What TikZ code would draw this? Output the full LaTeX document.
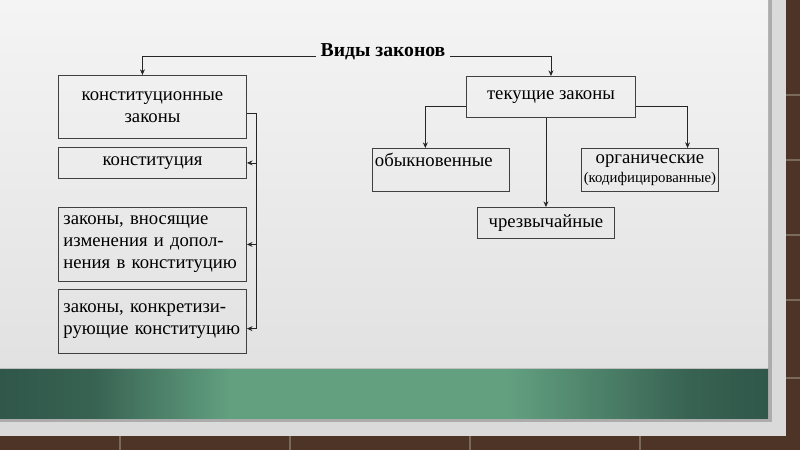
\documentclass[tikz,border=0pt]{standalone}
\usepackage{fontspec}
\setmainfont{Liberation Serif}
\usetikzlibrary{arrows.meta}

\definecolor{brick}{HTML}{4E3426}
\definecolor{mortar}{HTML}{7A6A5A}
\definecolor{panel}{HTML}{EDEDED}
\definecolor{bandmid}{HTML}{62A080}
\definecolor{bandend}{HTML}{30574A}
\pgfdeclarehorizontalshading{band}{100bp}{color(0bp)=(bandend); color(25bp)=(bandend); color(31bp)=(bandend!85!bandmid);
  color(40bp)=(bandmid); color(58bp)=(bandmid); color(70bp)=(bandend!85!bandmid); color(75bp)=(bandend); color(100bp)=(bandend)}

\begin{document}
\begin{tikzpicture}[x=0.025cm,y=-0.025cm,
  every node/.style={font=\fontsize{13.3}{15.6}\selectfont},
  box/.style={draw=black!75,line width=0.6pt,anchor=north west,inner sep=0pt},
  link/.style={draw=black!85,line width=0.6pt},
  >={Stealth[length=4pt,width=3.5pt]}]
\useasboundingbox (0,0) rectangle (800,450);
% slide background
\fill[brick] (0,0) rectangle (800,450);
\draw[mortar,line width=1.5pt] (786,95) -- (800,95);
\draw[mortar,line width=1.5pt] (786,160) -- (800,160);
\draw[mortar,line width=1.5pt] (786,235) -- (800,235);
\draw[mortar,line width=1.5pt] (786,300) -- (800,300);
\draw[mortar,line width=1.5pt] (786,378) -- (800,378);
\draw[mortar,line width=1pt] (120,436) -- (120,450);
\draw[mortar,line width=1pt] (290,436) -- (290,450);
\draw[mortar,line width=1pt] (470,436) -- (470,450);
\draw[mortar,line width=1pt] (640,436) -- (640,450);
\fill[panel!92!black] (0,0) rectangle (786,436);
\fill[gray!65] (0,0) rectangle (772,422);
\shade[top color=panel!60!white,bottom color=panel!94!black] (0,0) rectangle (768,418);
\shade[shading=band] (0,368) rectangle (768,418);
\draw[gray!50] (0,368) -- (768,368);

% title
\node[font=\bfseries\fontsize{14}{16}\selectfont,anchor=base] (title) at (383,56) {Виды законов};

% constitutional laws
\node[box,minimum width=4.7cm,minimum height=1.575cm,align=center] (konst) at (58,75) {конституционные\\законы};
\node[box,minimum width=4.7cm,minimum height=0.775cm] (konstit) at (58,147) {конституция};
\node[box,minimum width=4.7cm,minimum height=1.85cm,text width=4.45cm,align=left] (vnos) at (58,207) {законы, вносящие\\изменения и допол-\\нения в конституцию};
\node[box,minimum width=4.7cm,minimum height=1.6cm,text width=4.45cm,align=left] (konk) at (58,289) {законы, конкретизи-\\рующие конституцию};

% current laws
\node[box,minimum width=4.225cm,minimum height=1.025cm] (tek) at (466,76) {текущие законы};
\node[box,minimum width=3.425cm,text width=3.3cm,align=left,text height=0.45cm,text depth=0.625cm] (obyk) at (372,148) {обыкновенные};
\node[box,minimum width=3.425cm,minimum height=1.075cm,align=center] (org) at (581,148) {органические\\[-2pt]{\fontsize{10.5}{12}\selectfont(кодифицированные)}};
\node[box,minimum width=3.425cm,minimum height=0.775cm] (chrez) at (477,207) {чрезвычайные};

% connectors
\draw[link,->] (title.base west) -| ([xshift=-0.25cm]konst.north);
\draw[link,->] (title.base east) -| (tek.north);
\draw[link,->] ([yshift=-0.24cm]tek.west) -| ([xshift=-0.39cm]obyk.north);
\draw[link,->] ([yshift=-0.24cm]tek.east) -| ([xshift=0.94cm]org.north);
\draw[link,->] (chrez.north |- tek.south) -- (chrez.north);
\coordinate (bus) at ([xshift=0.25cm,yshift=-0.16cm]konst.east);
\draw[link] ([yshift=-0.16cm]konst.east) -- (bus);
\draw[link,->] (bus) |- (konstit.east);
\draw[link,->] (bus) |- (vnos.east);
\draw[link,->] (bus) |- ([yshift=-0.18cm]konk.east);
\end{tikzpicture}
\end{document}
